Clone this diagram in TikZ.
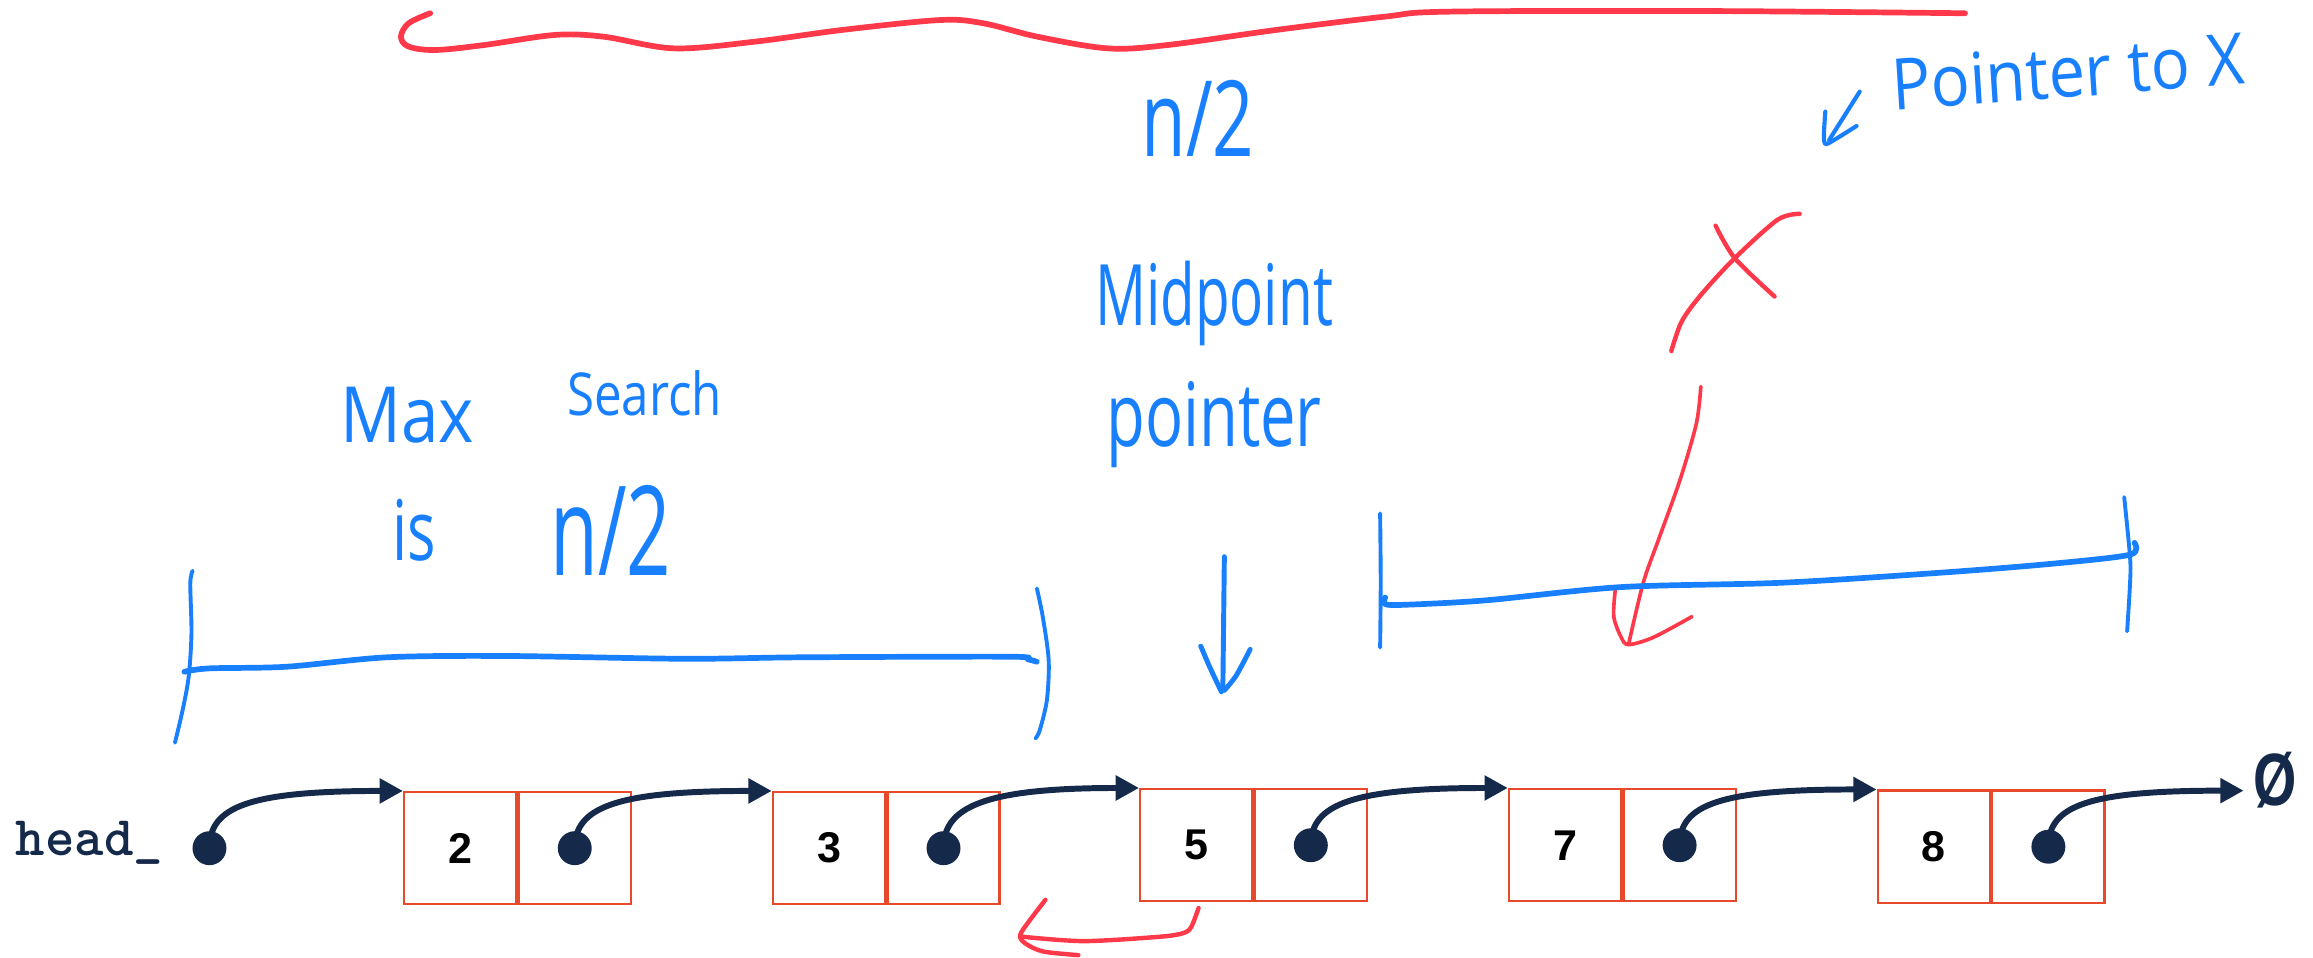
\documentclass[tikz,border=0pt]{standalone}
\usepackage{fontspec}
\setmainfont{Liberation Sans}
\newfontfamily\handfont{Open Sans}
\newfontfamily\numfont{Liberation Sans}
\newfontfamily\nulfont{Liberation Sans Bold}[FakeStretch=0.75]
\usetikzlibrary{arrows.meta}
\definecolor{navy}{HTML}{152A4B}
\definecolor{boxred}{HTML}{E9492B}
\definecolor{hblue}{HTML}{1880FF}
\definecolor{hred}{HTML}{FF384A}
\newcommand\hsz[1]{\handfont\fontsize{#1}{#1}\selectfont}
\begin{document}
\begin{tikzpicture}[x=0.01cm, y=-0.01cm,
  cell/.style={draw=boxred, line width=0.45pt, minimum size=0.76cm, inner sep=0,
    font=\numfont\bfseries\fontsize{8.3}{9}\selectfont},
  dot/.style={circle, fill=navy, minimum size=0.23cm, inner sep=0},
  ptr/.style={draw=navy, line width=1.15pt, -{Triangle[length=4.5pt,width=4.6pt]}},
  hw/.style={text=hblue, inner sep=0, anchor=base},
  bstroke/.style={draw=hblue, line cap=round, line join=round},
  rstroke/.style={draw=hred, line cap=round, line join=round},
]
\useasboundingbox (0,0) rectangle (1568,649);

% ---------- linked list ----------
\node[anchor=base west, inner sep=0, text=navy, font=\ttfamily\bfseries\fontsize{10.8}{11}\selectfont] (head) at (10,580) {head\_};
\node[dot] (d0) at (142,575) {};

\node[cell] (v2) at (312,575) {2};
\node[cell, anchor=west] (p2) at (v2.east) {};
\node[cell] (v3) at (562,575) {3};
\node[cell, anchor=west] (p3) at (v3.east) {};
\node[cell] (v5) at (811,573) {5};
\node[cell, anchor=west] (p5) at (v5.east) {};
\node[cell] (v7) at (1061,573) {7};
\node[cell, anchor=west] (p7) at (v7.east) {};
\node[cell] (v8) at (1311,574) {8};
\node[cell, anchor=west] (p8) at (v8.east) {};

\node[dot] (d2) at (p2.center) {};
\node[dot] (d3) at (p3.center) {};
\node[dot] (d5) at (p5.center) {};
\node[dot] (d7) at (p7.center) {};
\node[dot] (d8) at (p8.center) {};

\node[anchor=base west, inner sep=0, text=navy, font=\nulfont\fontsize{14.3}{15}\selectfont] (nul) at (1527,546) {Ø};
\coordinate (nulltip) at (1521,536);

\draw[ptr] (d0.center) .. controls +(0,-28) and +(-105,0) .. (v2.north west);
\draw[ptr] (d2.center) .. controls +(0,-28) and +(-105,0) .. (v3.north west);
\draw[ptr] (d3.center) .. controls +(0,-28) and +(-105,0) .. (v5.north west);
\draw[ptr] (d5.center) .. controls +(0,-28) and +(-105,0) .. (v7.north west);
\draw[ptr] (d7.center) .. controls +(0,-28) and +(-105,0) .. (v8.north west);
\draw[ptr] (d8.center) .. controls +(0,-28) and +(-105,0) .. (nulltip);

% ---------- red strokes ----------
\draw[rstroke, line width=1.1pt] plot[smooth, tension=0.55] coordinates {
  (291.6,9) (277,15.8) (271.8,24.9) (277,31.6) (295.3,33.9) (328.4,30.5) (376.2,23.7)
  (409.3,24.9) (457.1,32.8) (512.2,28.2) (571,20.3) (637.2,13.6) (666.6,15.8)
  (703.4,24.9) (751.2,32.8) (791.7,30.5) (865.2,20.3) (938.7,11.3) (982.8,7.9)
  (1159.3,7.5) (1332.1,9)};
% X
\draw[rstroke, line width=0.85pt] plot[smooth] coordinates {(1163,153) (1176,175) (1203,201)};
\draw[rstroke, line width=0.85pt] plot[smooth] coordinates {(1220,145) (1205,149) (1176,175) (1153,200) (1140,218) (1133,238)};
% long red arrow
\draw[rstroke, line width=0.7pt] plot[smooth] coordinates {(1153,262) (1150,287) (1139,325) (1125,364) (1114,395) (1104,437)};
\draw[rstroke, line width=0.7pt] plot[smooth] coordinates {(1095,400) (1094,418) (1099,432) (1104,437) (1121,432) (1147,418)};
% red hook under 5
\draw[rstroke, line width=0.85pt] plot[smooth] coordinates {(708.7,610) (698,624) (691.5,634) (695,639.5) (707,645) (731,647.5)};
\draw[rstroke, line width=0.85pt] plot[smooth] coordinates {(812.5,615.6) (807.5,628.5) (802,632.6) (786.5,635) (734.7,638) (693,635)};

% ---------- blue strokes ----------
% left bracket
\draw[bstroke, line width=0.75pt] plot[smooth] coordinates {(130.6,386.9) (129,395.5) (129.8,429.4) (127.9,458.8) (123.8,481.4) (118.6,503.5)};
\draw[bstroke, line width=1.1pt] plot[smooth] coordinates {(125,455.4) (141.9,453.1) (194.2,452) (262.5,445.6) (343,444.7) (463.6,446.6) (544,445.6) (684.7,445.2) (696.8,447) (702.8,448.6)};
\draw[bstroke, line width=0.75pt] plot[smooth] coordinates {(702.9,398.9) (706.9,418.1) (710.9,447.5) (709.7,474.6) (704.9,494.9) (702,500.6)};
% right bracket
\draw[bstroke, line width=0.75pt] plot[smooth] coordinates {(935.6,348) (936,395) (935.6,439)};
\draw[bstroke, line width=1.1pt] plot[smooth] coordinates {(939,405) (939,409.5) (952,410) (1007,407) (1099,398) (1209,395) (1319,388) (1393,382) (1444,376) (1447,368)};
\draw[bstroke, line width=0.75pt] plot[smooth] coordinates {(1440,337) (1444,378) (1444,395) (1442,428)};
% midpoint arrow
\draw[bstroke, line width=0.95pt] (830,377.4) -- (829,465.5);
\draw[bstroke, line width=0.95pt] plot[smooth] coordinates {(814,438) (820,452) (828,469)};
\draw[bstroke, line width=0.95pt] plot[smooth] coordinates {(847.5,440.2) (838,458) (830,468)};
% small arrow near "Pointer to X"
\draw[bstroke, line width=0.8pt] (1260.7,62.1) -- (1240,94.9);
\draw[bstroke, line width=0.8pt] plot[smooth] coordinates {(1237.4,75.7) (1236.5,90.4) (1237.4,97.6) (1244,94.5) (1258.6,85.4)};

% ---------- handwritten labels ----------
\node[hw, yscale=1.45, font=\hsz{14}] (half1) at (812,106) {n/2};
\node[hw, yscale=1.5, font=\hsz{10.9}] (mid1) at (823,221) {Midpoint};
\node[hw, yscale=1.4, font=\hsz{12.2}] (mid2) at (823,303) {pointer};
\node[hw, yscale=1.15, font=\hsz{13}] (max1) at (276,300) {Max};
\node[hw, yscale=1.2, font=\hsz{9.5}] (max2) at (437,282) {Search};
\node[hw, yscale=1.4, font=\hsz{11.5}] (is1) at (281,380) {is};
\node[hw, yscale=1.6, font=\hsz{15}] (half2) at (414,390) {n/2};
\node[hw, yscale=1.1, rotate=4, font=\hsz{12.5}] (ptx) at (1403,66) {Pointer to X};
\end{tikzpicture}
\end{document}
